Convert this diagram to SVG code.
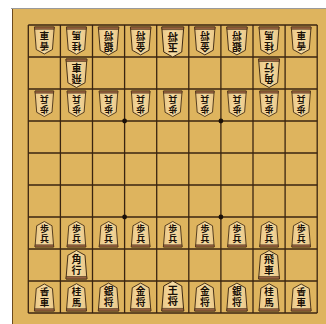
<svg xmlns="http://www.w3.org/2000/svg" width="326" height="324" viewBox="0 0 326 324">
<style>
.grid line{stroke:#3a2410;stroke-width:1.3}
.k{font-family:"Noto Sans CJK JP","Noto Sans CJK SC",sans-serif;font-size:10.5px;font-weight:bold;fill:#1a1006;text-anchor:middle;writing-mode:tb;letter-spacing:1px}
</style>
<defs>
<linearGradient id="face" x1="0" y1="0" x2="1" y2="0">
<stop offset="0" stop-color="#E9C685"/><stop offset="0.5" stop-color="#F6DCA4"/><stop offset="1" stop-color="#E9C685"/>
</linearGradient>
<g id="shape">
<path d="M0,-30 L9,-25 L11,0 L-11,0 L-9,-25 Z" fill="url(#face)" stroke="#3d2812" stroke-width="1"/>
<path d="M-10.75,-2.6 L10.75,-2.6 L11,0 L-11,0 Z" fill="#9A6440" stroke="#3d2812" stroke-width="0.6"/>
</g>
</defs>
<rect width="326" height="324" fill="#ffffff"/>
<rect x="12" y="9" width="314" height="315" fill="#DEB45E"/>
<line x1="11" y1="8.5" x2="326" y2="8.5" stroke="#9a9a9a" stroke-width="1"/>
<line x1="12.5" y1="9" x2="12.5" y2="324" stroke="#6b4a1e" stroke-width="1"/>
<g id="grid" class="grid">
<line x1="28.3" y1="25" x2="28.3" y2="313"/><line x1="60.4" y1="25" x2="60.4" y2="313"/><line x1="92.5" y1="25" x2="92.5" y2="313"/><line x1="124.6" y1="25" x2="124.6" y2="313"/><line x1="156.7" y1="25" x2="156.7" y2="313"/><line x1="188.8" y1="25" x2="188.8" y2="313"/><line x1="220.9" y1="25" x2="220.9" y2="313"/><line x1="253" y1="25" x2="253" y2="313"/><line x1="285.1" y1="25" x2="285.1" y2="313"/><line x1="317.2" y1="25" x2="317.2" y2="313"/>
<line x1="28.3" y1="25" x2="317.2" y2="25"/><line x1="28.3" y1="57" x2="317.2" y2="57"/><line x1="28.3" y1="89" x2="317.2" y2="89"/><line x1="28.3" y1="121" x2="317.2" y2="121"/><line x1="28.3" y1="153" x2="317.2" y2="153"/><line x1="28.3" y1="185" x2="317.2" y2="185"/><line x1="28.3" y1="217" x2="317.2" y2="217"/><line x1="28.3" y1="249" x2="317.2" y2="249"/><line x1="28.3" y1="281" x2="317.2" y2="281"/><line x1="28.3" y1="313" x2="317.2" y2="313"/>
<circle cx="124.6" cy="121" r="2.4" fill="#1a1008"/><circle cx="220.9" cy="121" r="2.4" fill="#1a1008"/><circle cx="124.6" cy="217" r="2.4" fill="#1a1008"/><circle cx="220.9" cy="217" r="2.4" fill="#1a1008"/>
</g>
<g id="connectors"/>
<g id="g-lance-l" transform="translate(44.35,27) rotate(180) scale(0.9)"><use href="#shape"/><text class="k" x="0" y="-15">香車</text></g>
<g id="g-knight-l" transform="translate(76.45,27) rotate(180) scale(0.91)"><use href="#shape"/><text class="k" x="0" y="-15">桂馬</text></g>
<g id="g-silver-l" transform="translate(108.55,27) rotate(180) scale(0.93)"><use href="#shape"/><text class="k" x="0" y="-15">銀将</text></g>
<g id="g-gold-l" transform="translate(140.65,27) rotate(180) scale(0.93)"><use href="#shape"/><text class="k" x="0" y="-15">金将</text></g>
<g id="g-king" transform="translate(172.75,27) rotate(180)"><use href="#shape"/><text class="k" x="0" y="-15">玉将</text></g>
<g id="g-gold-r" transform="translate(204.85,27) rotate(180) scale(0.93)"><use href="#shape"/><text class="k" x="0" y="-15">金将</text></g>
<g id="g-silver-r" transform="translate(236.95,27) rotate(180) scale(0.93)"><use href="#shape"/><text class="k" x="0" y="-15">銀将</text></g>
<g id="g-knight-r" transform="translate(269.05,27) rotate(180) scale(0.91)"><use href="#shape"/><text class="k" x="0" y="-15">桂馬</text></g>
<g id="g-lance-r" transform="translate(301.15,27) rotate(180) scale(0.9)"><use href="#shape"/><text class="k" x="0" y="-15">香車</text></g>
<g id="g-rook" transform="translate(76.45,59) rotate(180) scale(0.95)"><use href="#shape"/><text class="k" x="0" y="-15">飛車</text></g>
<g id="g-bishop" transform="translate(269.05,59) rotate(180) scale(0.95)"><use href="#shape"/><text class="k" x="0" y="-15">角行</text></g>
<g id="g-pawn-1" transform="translate(44.35,91) rotate(180) scale(0.85)"><use href="#shape"/><text class="k" x="0" y="-15">歩兵</text></g>
<g id="g-pawn-2" transform="translate(76.45,91) rotate(180) scale(0.85)"><use href="#shape"/><text class="k" x="0" y="-15">歩兵</text></g>
<g id="g-pawn-3" transform="translate(108.55,91) rotate(180) scale(0.85)"><use href="#shape"/><text class="k" x="0" y="-15">歩兵</text></g>
<g id="g-pawn-4" transform="translate(140.65,91) rotate(180) scale(0.85)"><use href="#shape"/><text class="k" x="0" y="-15">歩兵</text></g>
<g id="g-pawn-5" transform="translate(172.75,91) rotate(180) scale(0.85)"><use href="#shape"/><text class="k" x="0" y="-15">歩兵</text></g>
<g id="g-pawn-6" transform="translate(204.85,91) rotate(180) scale(0.85)"><use href="#shape"/><text class="k" x="0" y="-15">歩兵</text></g>
<g id="g-pawn-7" transform="translate(236.95,91) rotate(180) scale(0.85)"><use href="#shape"/><text class="k" x="0" y="-15">歩兵</text></g>
<g id="g-pawn-8" transform="translate(269.05,91) rotate(180) scale(0.85)"><use href="#shape"/><text class="k" x="0" y="-15">歩兵</text></g>
<g id="g-pawn-9" transform="translate(301.15,91) rotate(180) scale(0.85)"><use href="#shape"/><text class="k" x="0" y="-15">歩兵</text></g>
<g id="s-pawn-1" transform="translate(44.35,247) scale(0.85)"><use href="#shape"/><text class="k" x="0" y="-15">歩兵</text></g>
<g id="s-pawn-2" transform="translate(76.45,247) scale(0.85)"><use href="#shape"/><text class="k" x="0" y="-15">歩兵</text></g>
<g id="s-pawn-3" transform="translate(108.55,247) scale(0.85)"><use href="#shape"/><text class="k" x="0" y="-15">歩兵</text></g>
<g id="s-pawn-4" transform="translate(140.65,247) scale(0.85)"><use href="#shape"/><text class="k" x="0" y="-15">歩兵</text></g>
<g id="s-pawn-5" transform="translate(172.75,247) scale(0.85)"><use href="#shape"/><text class="k" x="0" y="-15">歩兵</text></g>
<g id="s-pawn-6" transform="translate(204.85,247) scale(0.85)"><use href="#shape"/><text class="k" x="0" y="-15">歩兵</text></g>
<g id="s-pawn-7" transform="translate(236.95,247) scale(0.85)"><use href="#shape"/><text class="k" x="0" y="-15">歩兵</text></g>
<g id="s-pawn-8" transform="translate(269.05,247) scale(0.85)"><use href="#shape"/><text class="k" x="0" y="-15">歩兵</text></g>
<g id="s-pawn-9" transform="translate(301.15,247) scale(0.85)"><use href="#shape"/><text class="k" x="0" y="-15">歩兵</text></g>
<g id="s-bishop" transform="translate(76.45,279) scale(0.95)"><use href="#shape"/><text class="k" x="0" y="-15">角行</text></g>
<g id="s-rook" transform="translate(269.05,279) scale(0.95)"><use href="#shape"/><text class="k" x="0" y="-15">飛車</text></g>
<g id="s-lance-l" transform="translate(44.35,311) scale(0.9)"><use href="#shape"/><text class="k" x="0" y="-15">香車</text></g>
<g id="s-knight-l" transform="translate(76.45,311) scale(0.91)"><use href="#shape"/><text class="k" x="0" y="-15">桂馬</text></g>
<g id="s-silver-l" transform="translate(108.55,311) scale(0.93)"><use href="#shape"/><text class="k" x="0" y="-15">銀将</text></g>
<g id="s-gold-l" transform="translate(140.65,311) scale(0.93)"><use href="#shape"/><text class="k" x="0" y="-15">金将</text></g>
<g id="s-king" transform="translate(172.75,311)"><use href="#shape"/><text class="k" x="0" y="-15">王将</text></g>
<g id="s-gold-r" transform="translate(204.85,311) scale(0.93)"><use href="#shape"/><text class="k" x="0" y="-15">金将</text></g>
<g id="s-silver-r" transform="translate(236.95,311) scale(0.93)"><use href="#shape"/><text class="k" x="0" y="-15">銀将</text></g>
<g id="s-knight-r" transform="translate(269.05,311) scale(0.91)"><use href="#shape"/><text class="k" x="0" y="-15">桂馬</text></g>
<g id="s-lance-r" transform="translate(301.15,311) scale(0.9)"><use href="#shape"/><text class="k" x="0" y="-15">香車</text></g>
</svg>
